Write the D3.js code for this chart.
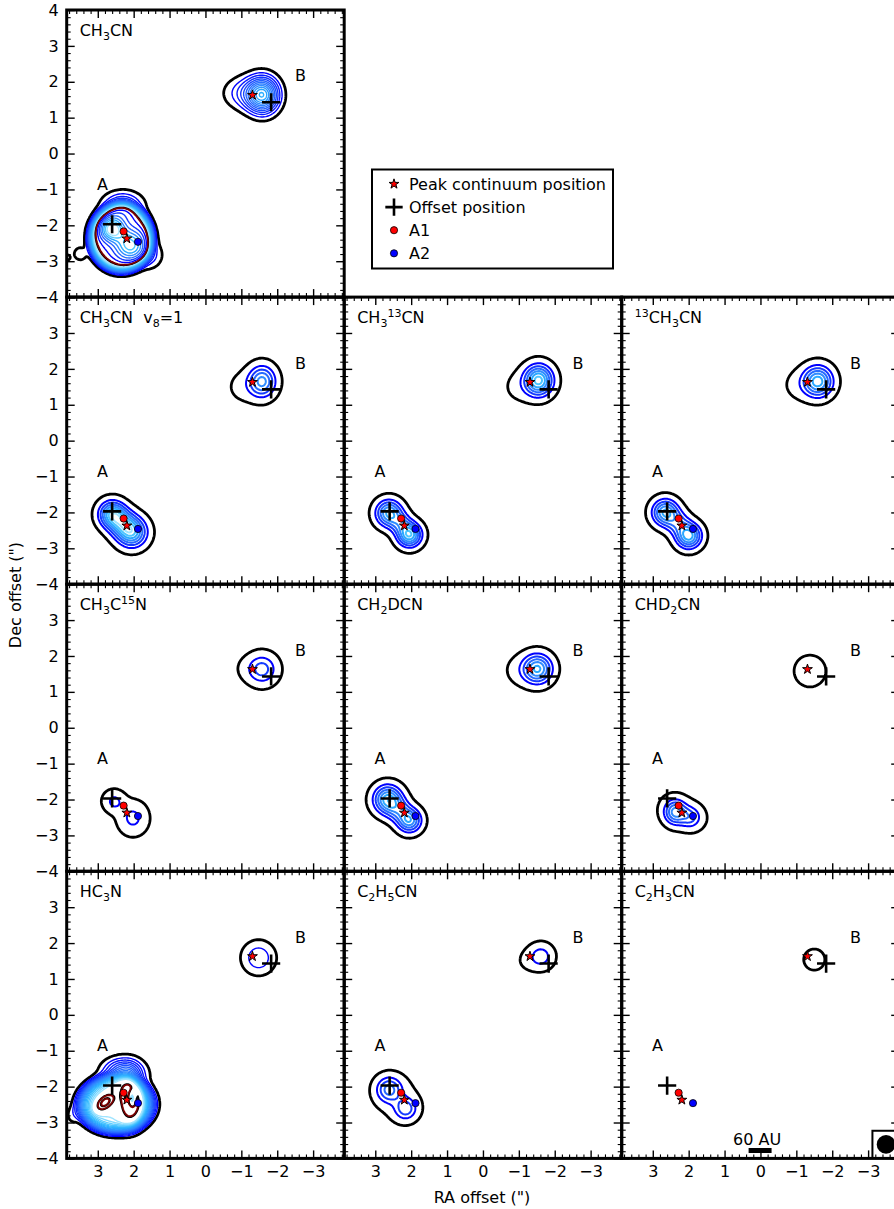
<!DOCTYPE html>
<html>
<head>
<meta charset="utf-8">
<script src="https://cdn.jsdelivr.net/npm/d3@7"></script>
<style>
  body { margin: 0; background: #fff; }
  svg text { font-family: "DejaVu Sans", sans-serif; fill: #000; }
</style>
</head>
<body>
<svg id="fig" width="894" height="1209"></svg>
<script>
(function () {

    'use strict';

    // ---------- data ----------
    var raHalf = 3.866, decHalf = 4;
    var majorX = [3, 2, 1, 0, -1, -2, -3];
    var majorY = [4, 3, 2, 1, 0, -1, -2, -3, -4];

    // marker positions (RA offset, Dec offset) in arcsec
    var peakContinuum = [[2.19, -2.37], [-1.31, 1.63]];
    var offsetPosition = [[2.6, -1.97], [-1.83, 1.43]];
    var posA1 = [[2.28, -2.17]];
    var posA2 = [[1.88, -2.46]];
    var sourceNames = ["A", "B"];
    var sourceLabelPos = [[2.87, -0.86], [-2.65, 2.17]];

    var scaleBarAU = 60, scaleBarArcsec = 0.64, scaleBarCenter = [0.01, -3.78];
    var beamArcsec = 0.52, beamBoxArcsec = 0.76, beamCenter = [-3.5, -3.61];

    // emission components: [ra, dec, sigmaMajor, sigmaMinor, angleDeg, peak, shape]
    var emCH3CN = [
        [-1.6, 1.63, 0.3, 0.34, 0, 0.55],
        [-1.1, 1.68, 0.42, 0.32, 0, 0.16],
        [2.35, -2.35, 0.62, 0.66, 0, 1.0, 4],
        [2.3, -1.45, 0.35, 0.25, 0, 0.25],
        [1.55, -2.85, 0.25, 0.25, 0, 0.12],
        [2.4, -2.3, 0.7, 0.7, 0, 0.06],
        [2.6, -2.1, 0.22, 0.22, 0, 0.9],
        [2.1, -2.55, 0.28, 0.28, 0, 0.7],
        [3.5, -2.8, 0.16, 0.16, 0, 0.08],
        [3.86, -2.9, 0.07, 0.07, 0, 0.09]
    ];
    var emV8 = [
        [-1.58, 1.65, 0.25, 0.29, 0, 0.6],
        [-1.05, 1.5, 0.3, 0.3, 0, 0.09],
        [2.6, -2.05, 0.24, 0.24, 0, 0.75],
        [2.05, -2.55, 0.27, 0.27, 0, 0.75],
        [2.33, -2.3, 0.25, 0.25, 0, 0.45]
    ];
    var em13CN = [
        [-1.55, 1.68, 0.26, 0.28, 0, 0.85],
        [-1.0, 1.5, 0.3, 0.3, 0, 0.08],
        [2.62, -2.02, 0.24, 0.24, 0, 0.7],
        [2.05, -2.62, 0.22, 0.22, 0, 0.8],
        [2.3, -2.3, 0.2, 0.2, 0, 0.3]
    ];
    var em13CH3 = [
        [-1.6, 1.65, 0.27, 0.28, 0, 0.75],
        [-1.05, 1.55, 0.3, 0.3, 0, 0.08],
        [2.65, -2.0, 0.24, 0.24, 0, 0.7],
        [2.0, -2.65, 0.23, 0.23, 0, 0.75],
        [2.3, -2.3, 0.22, 0.22, 0, 0.3]
    ];
    var em15N = [
        [-1.58, 1.63, 0.28, 0.28, 0, 0.38],
        [-1.1, 1.65, 0.25, 0.25, 0, 0.04],
        [2.55, -2.05, 0.2, 0.2, 0, 0.23],
        [2.02, -2.52, 0.27, 0.3, 0, 0.24]
    ];
    var emCH2D = [
        [-1.52, 1.64, 0.27, 0.27, 0, 0.7],
        [-1.0, 1.6, 0.3, 0.3, 0, 0.08],
        [2.65, -2.0, 0.26, 0.26, 0, 0.75],
        [2.05, -2.58, 0.22, 0.22, 0, 0.65],
        [2.35, -2.3, 0.22, 0.22, 0, 0.3]
    ];
    var emCHD2 = [
        [-1.38, 1.58, 0.32, 0.32, 0, 0.13],
        [2.38, -2.35, 0.2, 0.22, 0, 0.55],
        [1.95, -2.5, 0.2, 0.2, 0, 0.3],
        [2.15, -2.35, 0.5, 0.33, 25, 0.08]
    ];
    var emHC3N = [
        [-1.48, 1.59, 0.36, 0.36, 0, 0.16],
        [2.5, -2.5, 0.72, 0.55, 0, 0.95, 3],
        [2.3, -1.6, 0.35, 0.25, 0, 0.35],
        [2.2, -2.2, 0.6, 0.6, 0, 0.06],
        [2.8, -2.44, 0.22, 0.13, -40, 0.55],
        [2.07, -2.35, 0.2, 0.42, 0, 0.65],
        [2.05, -2.33, 0.08, 0.17, 0, -0.75],
        [3.7, -2.8, 0.15, 0.2, 0, 0.08]
    ];
    var emC2H5 = [
        [-1.62, 1.63, 0.23, 0.23, 0, 0.28],
        [-1.2, 1.5, 0.25, 0.25, 0, 0.05],
        [2.62, -2.08, 0.24, 0.24, 0, 0.45],
        [2.15, -2.62, 0.21, 0.21, 0, 0.36],
        [2.35, -2.35, 0.45, 0.45, 0, 0.08]
    ];
    var emC2H3 = [
        [-1.5, 1.54, 0.25, 0.25, 0, 0.1]
    ];

    // contour levels and their kind (k = black, b = blue ramp, r = dark red)
    var levelsStd = [0.05, 0.2, 0.32, 0.44, 0.56, 0.68, 0.8, 0.92];
    var kindsStd = ["k", "b", "b", "b", "b", "b", "b", "b"];
    var levelsCH3CN = [0.06, 0.12, 0.17, 0.22, 0.27, 0.32, 0.37, 0.42, 0.47, 0.52, 0.57, 0.62, 0.67, 0.72, 0.77, 0.82,
        0.92, 0.95, 1.08, 1.2, 1.32, 1.44, 1.56, 1.68, 1.8];
    var kindsCH3CN = ["k", "b", "b", "b", "b", "b", "b", "b", "b", "b", "b", "b", "b", "b", "b", "b",
        "k", "r", "b", "b", "b", "b", "b", "b", "b"];
    var levelsHC3N = [0.06, 0.12, 0.17, 0.22, 0.27, 0.32, 0.37, 0.42, 0.47, 0.52, 0.57, 0.62, 0.67, 0.72, 0.77, 0.82,
        0.87, 0.92, 0.97, 1.25, 1.28, 1.42, 1.45];
    var kindsHC3N = ["k", "b", "b", "b", "b", "b", "b", "b", "b", "b", "b", "b", "b", "b", "b", "b",
        "b", "b", "b", "k", "r", "k", "r"];

    var titles = [
        [["CH"], ["3", "sub"], ["CN"]],
        [["CH"], ["3", "sub"], ["CN  v"], ["8", "sub"], ["=1"]],
        [["CH"], ["3", "sub"], ["13", "sup"], ["CN"]],
        [["13", "sup"], ["CH"], ["3", "sub"], ["CN"]],
        [["CH"], ["3", "sub"], ["C"], ["15", "sup"], ["N"]],
        [["CH"], ["2", "sub"], ["DCN"]],
        [["CHD"], ["2", "sub"], ["CN"]],
        [["HC"], ["3", "sub"], ["N"]],
        [["C"], ["2", "sub"], ["H"], ["5", "sub"], ["CN"]],
        [["C"], ["2", "sub"], ["H"], ["3", "sub"], ["CN"]]
    ];

    var panels = [
        { title: titles[0], comps: emCH3CN, levels: levelsCH3CN, kinds: kindsCH3CN, row: 0, col: 0, dense: true },
        { title: titles[1], comps: emV8, levels: levelsStd, kinds: kindsStd, row: 1, col: 0 },
        { title: titles[2], comps: em13CN, levels: levelsStd, kinds: kindsStd, row: 1, col: 1 },
        { title: titles[3], comps: em13CH3, levels: levelsStd, kinds: kindsStd, row: 1, col: 2 },
        { title: titles[4], comps: em15N, levels: levelsStd, kinds: kindsStd, row: 2, col: 0 },
        { title: titles[5], comps: emCH2D, levels: levelsStd, kinds: kindsStd, row: 2, col: 1 },
        { title: titles[6], comps: emCHD2, levels: levelsStd, kinds: kindsStd, row: 2, col: 2 },
        { title: titles[7], comps: emHC3N, levels: levelsHC3N, kinds: kindsHC3N, row: 3, col: 0, dense: true },
        { title: titles[8], comps: emC2H5, levels: levelsStd, kinds: kindsStd, row: 3, col: 1 },
        { title: titles[9], comps: emC2H3, levels: levelsStd, kinds: kindsStd, row: 3, col: 2, beam: true }
    ];

    // ---------- layout ----------
    var left = 66.7, top = 10, panelW = 277.5, panelH = 287.1;
    var svg = d3.select("#fig");
    var defs = svg.append("defs");

    var blueRamp = d3.interpolateRgbBasis(["#0000ff", "#1f5cff", "#3a8eff", "#18b6ff", "#9fe4ff"]);

    var step = 0.04, gx0 = 3.96, gy0 = 4.08, nx = 199, ny = 205;

    function intensity(comps, ra, dec) {
        var v = 0;
        comps.forEach(function (c) {
            var t = (c[4] || 0) * Math.PI / 180;
            var dx = ra - c[0], dy = dec - c[1];
            var u = dx * Math.cos(t) + dy * Math.sin(t);
            var w = -dx * Math.sin(t) + dy * Math.cos(t);
            var q = (u * u / (c[2] * c[2]) + w * w / (c[3] * c[3])) / 2;
            v += c[5] * Math.exp(-Math.pow(q, c[6] || 1));
        });
        return v;
    }

    function levelStyles(kinds, dense) {
        var out = [], i = 0;
        while (i < kinds.length) {
            if (kinds[i] === "b") {
                var j = i;
                while (j < kinds.length && kinds[j] === "b") j++;
                var n = j - i;
                for (var m = 0; m < n; m++) {
                    out.push({ color: blueRamp(n > 1 ? m / (n - 1) : 0), width: dense ? 1.4 : 2 });
                }
                i = j;
            } else if (kinds[i] === "k") {
                out.push({ color: "#000", width: i === 0 ? 2.8 : 1.8 });
                i++;
            } else {
                out.push({ color: "#7a0000", width: 1.8 });
                i++;
            }
        }
        return out;
    }

    var fmt = d3.format("d");
    var minor = d3.range(-19, 20).filter(function (i) { return i % 5 !== 0; }).map(function (i) { return i / 5; });

    panels.forEach(function (p, k) {
        var x0 = left + p.col * panelW, y0 = top + p.row * panelH;
        var x = d3.scaleLinear().domain([raHalf, -raHalf]).range([x0, x0 + panelW]);
        var y = d3.scaleLinear().domain([decHalf, -decHalf]).range([y0, y0 + panelH]);

        defs.append("clipPath").attr("id", "clip" + k)
            .append("rect").attr("x", x0).attr("y", y0).attr("width", panelW).attr("height", panelH);

        var g = svg.append("g").attr("class", "panel");

        // contour map
        var vals = new Float64Array(nx * ny);
        for (var j = 0; j < ny; j++) {
            for (var i = 0; i < nx; i++) {
                vals[j * nx + i] = intensity(p.comps, gx0 - i * step, gy0 - j * step);
            }
        }
        var contours = d3.contours().size([nx, ny]).thresholds(p.levels)(vals);
        var proj = d3.geoTransform({
            point: function (cx, cy) {
                this.stream.point(x(gx0 - (cx - 0.5) * step), y(gy0 - (cy - 0.5) * step));
            }
        });
        var path = d3.geoPath(proj);
        var styles = levelStyles(p.kinds, p.dense);

        var body = g.append("g").attr("clip-path", "url(#clip" + k + ")");
        body.selectAll("path.contour")
            .data(contours)
            .enter().append("path")
            .attr("class", "contour")
            .attr("d", path)
            .attr("fill", "none")
            .attr("stroke", function (d, i) { return styles[i].color; })
            .attr("stroke-width", function (d, i) { return styles[i].width; })
            .attr("stroke-linejoin", "round");

        // markers
        body.selectAll("path.offset")
            .data(offsetPosition)
            .enter().append("path")
            .attr("class", "offset")
            .attr("transform", function (d) { return "translate(" + x(d[0]) + "," + y(d[1]) + ")"; })
            .attr("d", d3.symbol(d3.symbolPlus, 110))
            .attr("fill", "none")
            .attr("stroke", "#000")
            .attr("stroke-width", 2.6);

        body.selectAll("circle.a1")
            .data(posA1)
            .enter().append("circle")
            .attr("class", "a1")
            .attr("cx", function (d) { return x(d[0]); })
            .attr("cy", function (d) { return y(d[1]); })
            .attr("r", 3.6)
            .attr("fill", "#ff0000")
            .attr("stroke", "#000")
            .attr("stroke-width", 0.8);

        body.selectAll("circle.a2")
            .data(posA2)
            .enter().append("circle")
            .attr("class", "a2")
            .attr("cx", function (d) { return x(d[0]); })
            .attr("cy", function (d) { return y(d[1]); })
            .attr("r", 3.6)
            .attr("fill", "#0000ff")
            .attr("stroke", "#000")
            .attr("stroke-width", 0.8);

        body.selectAll("path.peak")
            .data(peakContinuum)
            .enter().append("path")
            .attr("class", "peak")
            .attr("transform", function (d) { return "translate(" + x(d[0]) + "," + y(d[1]) + ")"; })
            .attr("d", d3.symbol(d3.symbolStar, 30))
            .attr("fill", "#ff0000")
            .attr("stroke", "#000")
            .attr("stroke-width", 1);

        // source labels
        g.selectAll("text.src")
            .data(sourceNames)
            .enter().append("text")
            .attr("class", "src")
            .attr("x", function (d, i) { return x(sourceLabelPos[i][0]); })
            .attr("y", function (d, i) { return y(sourceLabelPos[i][1]); })
            .attr("dy", "0.36em")
            .attr("text-anchor", "middle")
            .attr("font-size", 16)
            .text(function (d) { return d; });

        // title
        var t = g.append("text")
            .attr("x", x0 + 13)
            .attr("y", y0 + 26)
            .attr("font-size", 16)
            .style("white-space", "pre");
        var shift = 0;
        p.title.forEach(function (s) {
            var target = s[1] === "sub" ? 4 : (s[1] === "sup" ? -6 : 0);
            t.append("tspan")
                .attr("dy", target - shift)
                .attr("font-size", s[1] ? 11 : 16)
                .text(s[0]);
            shift = target;
        });

        // scale bar and beam
        if (p.beam) {
            g.append("rect")
                .attr("x", x(scaleBarCenter[0] + scaleBarArcsec / 2))
                .attr("y", y(scaleBarCenter[1]) - 2.5)
                .attr("width", x(scaleBarCenter[0] - scaleBarArcsec / 2) - x(scaleBarCenter[0] + scaleBarArcsec / 2))
                .attr("height", 5)
                .attr("fill", "#000");
            g.append("text")
                .attr("x", x(scaleBarCenter[0]) - 3)
                .attr("y", y(scaleBarCenter[1]) - 6)
                .attr("text-anchor", "middle")
                .attr("font-size", 16)
                .text(scaleBarAU + " AU");
            var bb = g.append("g").attr("clip-path", "url(#clip" + k + ")");
            bb.append("rect")
                .attr("x", x(beamCenter[0] + beamBoxArcsec / 2))
                .attr("y", y(beamCenter[1] + beamBoxArcsec / 2))
                .attr("width", x(beamCenter[0] - beamBoxArcsec / 2) - x(beamCenter[0] + beamBoxArcsec / 2))
                .attr("height", y(beamCenter[1] - beamBoxArcsec / 2) - y(beamCenter[1] + beamBoxArcsec / 2))
                .attr("fill", "#fff")
                .attr("stroke", "#000")
                .attr("stroke-width", 2);
            bb.append("ellipse")
                .attr("cx", x(beamCenter[0]))
                .attr("cy", y(beamCenter[1]))
                .attr("rx", x(beamCenter[0] - beamArcsec / 2) - x(beamCenter[0]))
                .attr("ry", y(beamCenter[1] - beamArcsec / 2) - y(beamCenter[1]))
                .attr("fill", "#000");
        }

        // axes: ticks inward on all four sides
        var showX = p.row === 3, showY = p.col === 0;
        function xLab(d) { return showX ? fmt(d) : ""; }
        function yLab(d) { return showY && !(p.row > 0 && d === 4) ? fmt(d) : ""; }

        var axes = [
            g.append("g").attr("transform", "translate(0," + (y0 + panelH) + ")")
                .call(d3.axisBottom(x).tickValues(majorX).tickSize(-8).tickPadding(7).tickFormat(xLab)),
            g.append("g").attr("transform", "translate(0," + y0 + ")")
                .call(d3.axisTop(x).tickValues(majorX).tickSize(-8).tickFormat("")),
            g.append("g").attr("transform", "translate(" + x0 + ",0)")
                .call(d3.axisLeft(y).tickValues(majorY).tickSize(-8).tickPadding(8).tickFormat(yLab)),
            g.append("g").attr("transform", "translate(" + (x0 + panelW) + ",0)")
                .call(d3.axisRight(y).tickValues(majorY).tickSize(-8).tickFormat(""))
        ];
        var minorAxes = [
            g.append("g").attr("transform", "translate(0," + (y0 + panelH) + ")")
                .call(d3.axisBottom(x).tickValues(minor).tickSize(-4).tickFormat("")),
            g.append("g").attr("transform", "translate(0," + y0 + ")")
                .call(d3.axisTop(x).tickValues(minor).tickSize(-4).tickFormat("")),
            g.append("g").attr("transform", "translate(" + x0 + ",0)")
                .call(d3.axisLeft(y).tickValues(minor).tickSize(-4).tickFormat("")),
            g.append("g").attr("transform", "translate(" + (x0 + panelW) + ",0)")
                .call(d3.axisRight(y).tickValues(minor).tickSize(-4).tickFormat(""))
        ];
        axes.concat(minorAxes).forEach(function (a) {
            a.select(".domain").remove();
            a.selectAll("line").attr("stroke", "#000").attr("stroke-width", 1.4);
            a.selectAll("text").attr("font-size", 16).attr("font-family", "DejaVu Sans, sans-serif").attr("fill", "#000");
        });
        minorAxes.forEach(function (a) { a.selectAll("line").attr("stroke-width", 1.1); });

        g.append("rect")
            .attr("x", x0).attr("y", y0)
            .attr("width", panelW).attr("height", panelH)
            .attr("fill", "none")
            .attr("stroke", "#000")
            .attr("stroke-width", 3);
    });

    // axis titles
    svg.append("text")
        .attr("x", 482).attr("y", 1203)
        .attr("text-anchor", "middle")
        .attr("font-size", 16)
        .text("RA offset (\")");
    svg.append("text")
        .attr("transform", "translate(21,595) rotate(-90)")
        .attr("text-anchor", "middle")
        .attr("font-size", 16)
        .text("Dec offset (\")");

    // legend
    var legendItems = ["Peak continuum position", "Offset position", "A1", "A2"];
    var lg = svg.append("g").attr("class", "legend");
    lg.append("rect")
        .attr("x", 372).attr("y", 169.5)
        .attr("width", 241).attr("height", 99)
        .attr("fill", "#fff").attr("stroke", "#000").attr("stroke-width", 2);
    var rows = lg.selectAll("g.item")
        .data(legendItems)
        .enter().append("g")
        .attr("class", "item")
        .attr("transform", function (d, i) { return "translate(394," + (184 + i * 23.1) + ")"; });
    rows.append("text")
        .attr("x", 15).attr("dy", "0.36em")
        .attr("font-size", 16)
        .text(function (d) { return d; });
    rows.filter(function (d, i) { return i === 0; }).append("path")
        .attr("d", d3.symbol(d3.symbolStar, 30))
        .attr("fill", "#ff0000").attr("stroke", "#000").attr("stroke-width", 1);
    rows.filter(function (d, i) { return i === 1; }).append("path")
        .attr("d", d3.symbol(d3.symbolPlus, 100))
        .attr("fill", "none").attr("stroke", "#000").attr("stroke-width", 2.6);
    rows.filter(function (d, i) { return i >= 2; }).append("circle")
        .attr("r", 3.6)
        .attr("fill", function (d) { return d === "A1" ? "#ff0000" : "#0000ff"; })
        .attr("stroke", "#000").attr("stroke-width", 0.8);

})();
</script>
</body>
</html>
